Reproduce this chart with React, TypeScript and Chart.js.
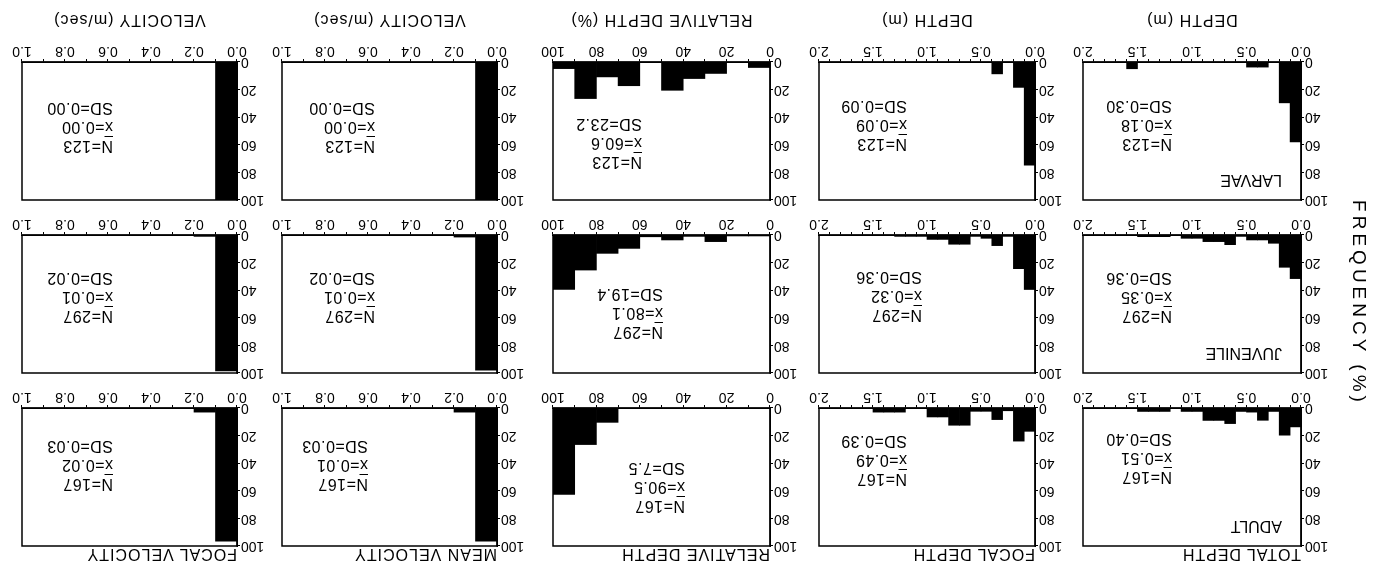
import React, { useEffect, useRef } from 'react';
import Chart from 'chart.js/auto';

// ---------- data ----------
const DEPTH_BINS = [0.05, 0.15, 0.25, 0.35, 0.45, 0.55, 0.65, 0.75, 0.85, 0.95, 1.05, 1.15, 1.25, 1.35, 1.45, 1.55, 1.65, 1.75, 1.85, 1.95];
const REL_BINS = [5, 15, 25, 35, 45, 55, 65, 75, 85, 95];
const VEL_BINS = [0.05, 0.15, 0.25, 0.35, 0.45, 0.55, 0.65, 0.75, 0.85, 0.95];

const TOTAL_DEPTH_ADULT = [13.7, 19.7, 2.5, 8.9, 3.0, 2.5, 11.3, 9.0, 9.0, 2.5, 2.5, 0, 2.5, 2.5, 2.5, 0, 0, 0, 0, 0];
const TOTAL_DEPTH_JUVENILE = [31.6, 23.4, 6.0, 3.6, 3.6, 1.0, 7.0, 4.8, 4.8, 2.4, 2.4, 0, 1.2, 1.2, 1.2, 0, 0, 0, 0, 0];
const TOTAL_DEPTH_LARVAE = [58.0, 29.6, 0, 3.7, 3.7, 0, 0, 0, 0, 0, 0, 0, 0, 0, 0, 4.9, 0, 0, 0, 0];

const FOCAL_DEPTH_ADULT = [16.9, 24.0, 2.0, 8.4, 2.4, 2.4, 12.5, 12.5, 6.5, 6.5, 0, 0, 3.0, 3.0, 3.0, 0, 0, 0, 0, 0];
const FOCAL_DEPTH_JUVENILE = [39.5, 24.4, 1.0, 7.7, 2.4, 1.0, 6.7, 6.7, 3.2, 3.2, 1.0, 1.0, 1.0, 0, 0, 0, 0, 0, 0, 0];
const FOCAL_DEPTH_LARVAE = [74.8, 18.4, 0, 8.6, 0, 0, 0, 0, 0, 0, 0, 0, 0, 0, 0, 0, 0, 0, 0, 0];

const REL_DEPTH_ADULT = [0, 0, 0, 0, 0, 0, 0, 10.4, 26.5, 62.6];
const REL_DEPTH_JUVENILE = [0.7, 0.7, 4.8, 1.0, 3.6, 1.3, 9.7, 13.3, 25.4, 39.5];
const REL_DEPTH_LARVAE = [4.0, 0, 8.3, 12.0, 20.5, 0, 17.2, 10.8, 26.5, 4.8];

const MEAN_VEL_ADULT = [96.5, 3.0, 0, 0, 0, 0, 0, 0, 0, 0];
const MEAN_VEL_JUVENILE = [98.0, 1.5, 0, 0, 0, 0, 0, 0, 0, 0];
const MEAN_VEL_LARVAE = [100, 0, 0, 0, 0, 0, 0, 0, 0, 0];

const FOCAL_VEL_ADULT = [96.5, 3.0, 0, 0, 0, 0, 0, 0, 0, 0];
const FOCAL_VEL_JUVENILE = [98.5, 1.0, 0, 0, 0, 0, 0, 0, 0, 0];
const FOCAL_VEL_LARVAE = [100, 0, 0, 0, 0, 0, 0, 0, 0, 0];

const COLUMN_TITLES = ['TOTAL DEPTH', 'FOCAL DEPTH', 'RELATIVE DEPTH', 'MEAN VELOCITY', 'FOCAL VELOCITY'];
const X_TITLES = ['DEPTH (m)', 'DEPTH (m)', 'RELATIVE DEPTH (%)', 'VELOCITY (m/sec)', 'VELOCITY (m/sec)'];
const ROW_LABELS = ['ADULT', 'JUVENILE', 'LARVAE'];
const Y_TITLE = 'FREQUENCY (%)';

// stats [row][col]
const STAT_N = [
  ['167', '167', '167', '167', '167'],
  ['297', '297', '297', '297', '297'],
  ['123', '123', '123', '123', '123'],
];
const STAT_MEAN = [
  ['0.51', '0.49', '90.5', '0.01', '0.02'],
  ['0.35', '0.32', '80.1', '0.01', '0.01'],
  ['0.18', '0.09', '60.6', '0.00', '0.00'],
];
const STAT_SD = [
  ['0.40', '0.39', '7.5', '0.03', '0.03'],
  ['0.36', '0.36', '19.4', '0.02', '0.02'],
  ['0.30', '0.09', '23.2', '0.00', '0.00'],
];

const SERIES = [
  [TOTAL_DEPTH_ADULT, FOCAL_DEPTH_ADULT, REL_DEPTH_ADULT, MEAN_VEL_ADULT, FOCAL_VEL_ADULT],
  [TOTAL_DEPTH_JUVENILE, FOCAL_DEPTH_JUVENILE, REL_DEPTH_JUVENILE, MEAN_VEL_JUVENILE, FOCAL_VEL_JUVENILE],
  [TOTAL_DEPTH_LARVAE, FOCAL_DEPTH_LARVAE, REL_DEPTH_LARVAE, MEAN_VEL_LARVAE, FOCAL_VEL_LARVAE],
];

const COL_AXIS = [
  { bins: DEPTH_BINS, max: 2, step: 0.1, every: 0.5, dec: 1 },
  { bins: DEPTH_BINS, max: 2, step: 0.1, every: 0.5, dec: 1 },
  { bins: REL_BINS, max: 100, step: 10, every: 20, dec: 0 },
  { bins: VEL_BINS, max: 1, step: 0.1, every: 0.2, dec: 1 },
  { bins: VEL_BINS, max: 1, step: 0.1, every: 0.2, dec: 1 },
];

// ---------- layout ----------
const FONT = '"Liberation Sans", Arial, Helvetica, sans-serif';
const COL_LEFT = [79, 345, 610, 883, 1143];
const COL_W = [218, 216, 217, 215, 215];
const ROW_TOP = [37, 210, 383];
const ROW_H = 138;
const STAT_DX = [
  [129, 128, 85, 129, 124],
  [129, 113, 107, 122, 124],
  [129, 128, 128, 122, 124],
];
const STAT_DY = [
  [68, 66, 39, 61, 61],
  [56, 57, 40, 56, 56],
  [55, 55, 37, 53, 53],
];

const PADL = 34, PADR = 14, PADT = 10, PADB = 24;

const framePlugin = {
  id: 'frame',
  afterDraw(chart: any) {
    const { ctx, chartArea } = chart;
    ctx.save();
    ctx.strokeStyle = '#000';
    ctx.lineWidth = 1.5;
    ctx.strokeRect(chartArea.left, chartArea.top, chartArea.right - chartArea.left, chartArea.bottom - chartArea.top);
    ctx.restore();
  },
};

function Panel(props: { left: number; top: number; width: number; height: number; bins: number[]; values: number[]; max: number; step: number; every: number; dec: number }) {
  const ref = useRef<HTMLCanvasElement>(null);
  const { left, top, width, height, bins, values, max, step, every, dec } = props;
  const cw = width + PADL + PADR;
  const ch = height + PADT + PADB;
  useEffect(() => {
    if (!ref.current) return;
    const chart = new Chart(ref.current, {
      type: 'bar',
      data: {
        datasets: [
          {
            data: bins.map((x, i) => ({ x, y: values[i] })),
            backgroundColor: '#000',
            borderWidth: 0,
            barPercentage: 1,
            categoryPercentage: 1,
          } as any,
        ],
      },
      options: {
        animation: false,
        responsive: false,
        devicePixelRatio: 1,
        layout: { padding: { left: 0, right: PADR, top: PADT, bottom: 0 } },
        plugins: { legend: { display: false }, tooltip: { enabled: false } },
        scales: {
          x: {
            type: 'linear',
            min: 0,
            max,
            offset: false,
            afterFit: (s: any) => { s.height = PADB; },
            ticks: {
              stepSize: step,
              autoSkip: false,
              maxRotation: 0,
              minRotation: 0,
              padding: 0,
              color: '#000',
              font: { family: FONT, size: 14 },
              callback: (v: any) => {
                const k = Number(v) / every;
                return Math.abs(k - Math.round(k)) < 1e-6 ? Number(v).toFixed(dec) : '';
              },
            },
            grid: { display: true, drawOnChartArea: false, drawTicks: true, tickLength: 3, color: '#000', offset: false },
            border: { display: true, color: '#000', width: 1.5 },
          },
          y: {
            min: 0,
            max: 100,
            afterFit: (s: any) => { s.width = PADL; },
            ticks: { stepSize: 20, padding: 1, color: '#000', font: { family: FONT, size: 14 } },
            grid: { display: true, drawOnChartArea: false, drawTicks: true, tickLength: 3, color: '#000' },
            border: { display: true, color: '#000', width: 1.5 },
          },
        },
      } as any,
      plugins: [framePlugin],
    });
    return () => chart.destroy();
  }, []);
  return (
    <canvas
      ref={ref}
      width={cw}
      height={ch}
      style={{ position: 'absolute', left: left - PADL, top: top - PADT, width: cw, height: ch }}
    />
  );
}

export default function App() {
  const textBase: React.CSSProperties = { position: 'absolute', fontFamily: FONT, color: '#000', whiteSpace: 'nowrap' };
  const items: React.ReactNode[] = [];
  for (let r = 0; r < 3; r++) {
    for (let c = 0; c < 5; c++) {
      const ax = COL_AXIS[c];
      items.push(
        <Panel
          key={`p${r}-${c}`}
          left={COL_LEFT[c]}
          top={ROW_TOP[r]}
          width={COL_W[c]}
          height={ROW_H}
          bins={ax.bins}
          values={SERIES[r][c]}
          max={ax.max}
          step={ax.step}
          every={ax.every}
          dec={ax.dec}
        />
      );
      const sx = COL_LEFT[c] + STAT_DX[r][c];
      const sy = ROW_TOP[r] + STAT_DY[r][c];
      const lh = 19;
      const st: React.CSSProperties = { ...textBase, left: sx, fontSize: 16, lineHeight: `${lh}px`, letterSpacing: 0.5 };
      items.push(<div key={`n${r}-${c}`} style={{ ...st, top: sy - lh / 2 }}>N={STAT_N[r][c]}</div>);
      items.push(
        <div key={`m${r}-${c}`} style={{ ...st, top: sy + lh - lh / 2 }}>
          <span style={{ textDecoration: 'overline' }}>x</span>={STAT_MEAN[r][c]}
        </div>
      );
      items.push(<div key={`s${r}-${c}`} style={{ ...st, top: sy + 2 * lh - lh / 2 }}>SD={STAT_SD[r][c]}</div>);
    }
    items.push(
      <div key={`rl${r}`} style={{ ...textBase, left: COL_LEFT[0] + 19, top: ROW_TOP[r] + 20 - 10, fontSize: 16, lineHeight: '20px' }}>
        {ROW_LABELS[r]}
      </div>
    );
  }
  for (let c = 0; c < 5; c++) {
    items.push(
      <div key={`ct${c}`} style={{ ...textBase, left: COL_LEFT[c], top: 29 - 10, fontSize: 16, lineHeight: '20px', letterSpacing: 1 }}>
        {COLUMN_TITLES[c]}
      </div>
    );
    items.push(
      <div
        key={`xt${c}`}
        style={{ ...textBase, left: COL_LEFT[c] + COL_W[c] / 2, top: 563 - 10, fontSize: 16, lineHeight: '20px', letterSpacing: 1, transform: 'translateX(-50%)' }}
      >
        {X_TITLES[c]}
      </div>
    );
  }
  items.push(
    <div
      key="yt"
      style={{ ...textBase, left: 21, top: 280, fontSize: 19, lineHeight: '22px', letterSpacing: 4, transform: 'translate(-50%, -50%) rotate(-90deg)' }}
    >
      {Y_TITLE}
    </div>
  );

  return (
    <div
      style={{
        position: 'fixed',
        left: 0,
        top: 0,
        width: 1380,
        height: 583,
        background: '#fff',
        overflow: 'hidden',
        transform: 'rotate(180deg)',
      }}
    >
      {items}
    </div>
  );
}
